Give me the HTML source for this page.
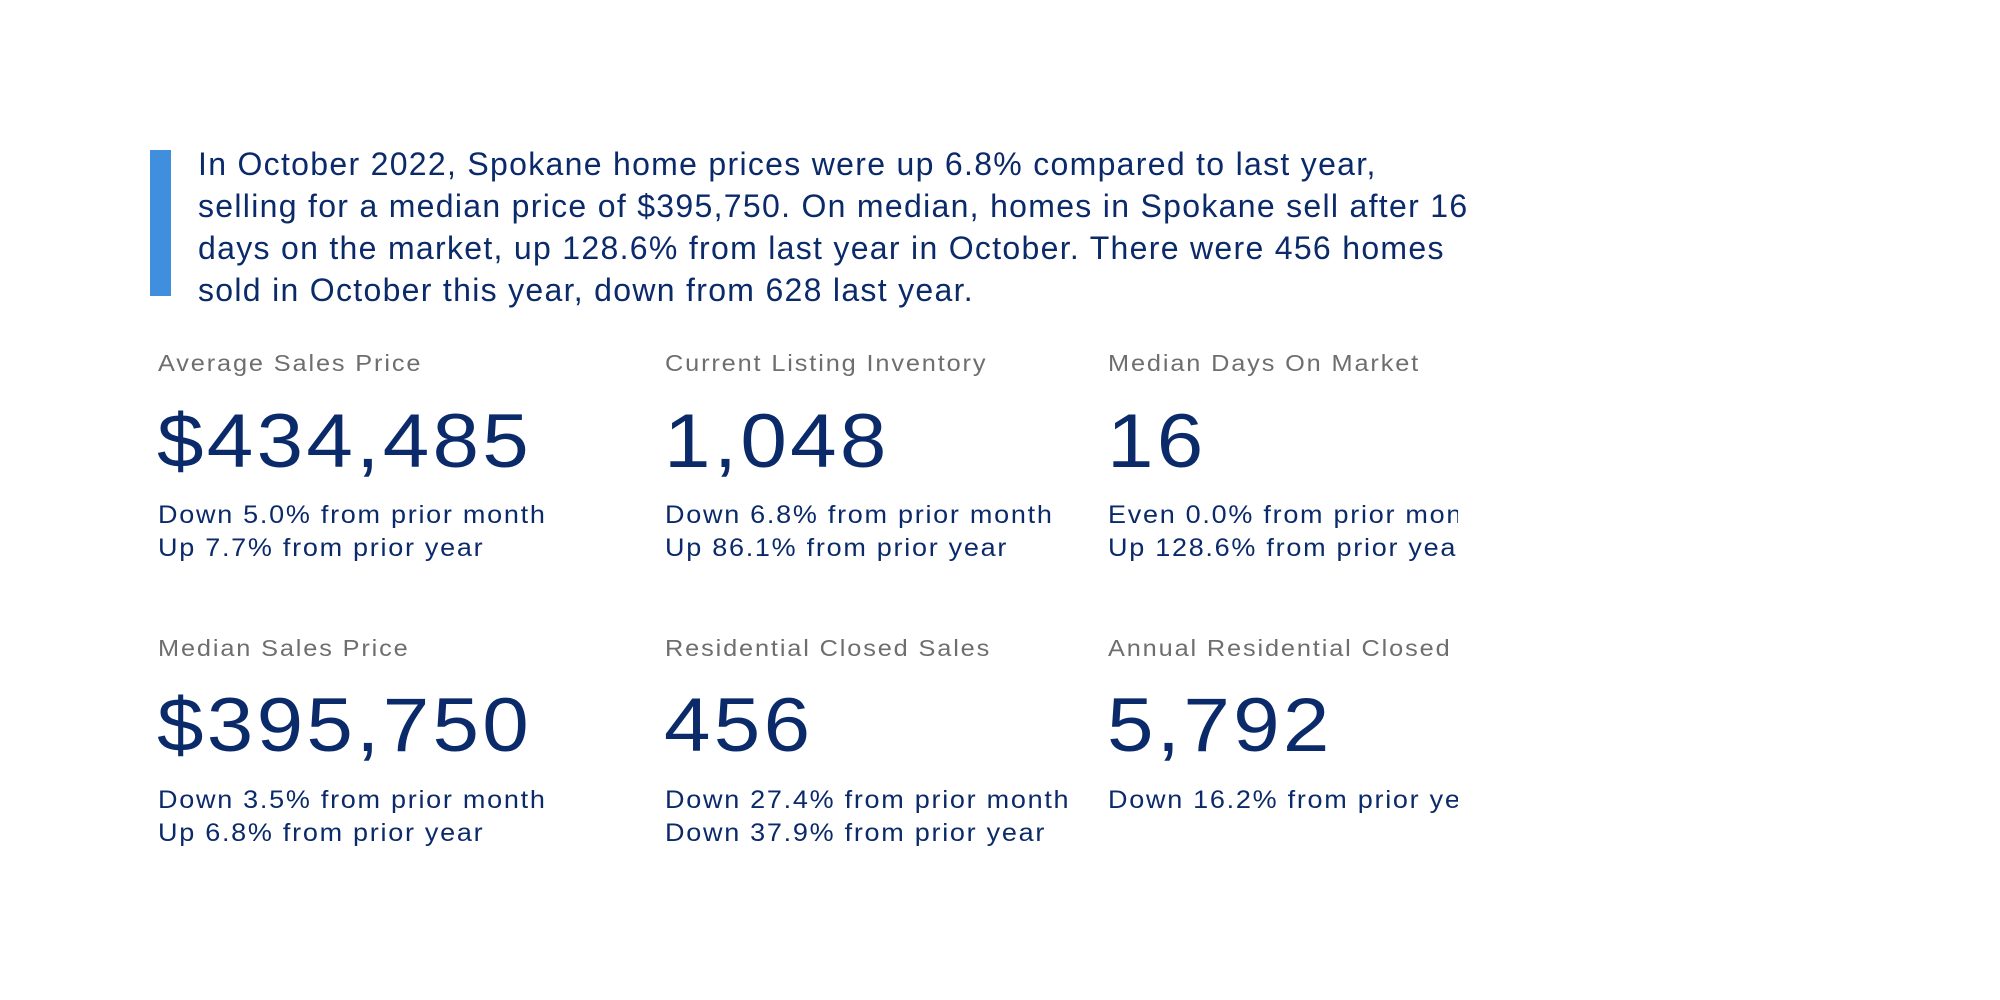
<!DOCTYPE html>
<html><head><meta charset="utf-8"><style>
html,body{margin:0;padding:0;background:#fff;}
body{width:2000px;height:1000px;position:relative;overflow:hidden;font-family:"Liberation Sans",Arial,sans-serif;}
.bar{position:absolute;left:150px;top:150px;width:21px;height:146px;background:#3f8fde;}
.para{position:absolute;left:198px;top:143px;width:1600px;font-size:32px;line-height:42px;color:#0b2a6a;letter-spacing:1.3px;white-space:nowrap;}
.col{position:absolute;overflow:hidden;white-space:nowrap;}
.col div{transform-origin:0 0;}
.lbl{position:absolute;left:0;font-size:23px;line-height:1;color:#6e6e6e;letter-spacing:1.7px;transform:scaleX(1.1);}
.big{position:absolute;left:-1px;font-size:76px;line-height:1;color:#0b2a6a;letter-spacing:3px;transform:scaleX(1.1);}
.sub{position:absolute;left:0;font-size:25px;line-height:1;color:#0b2a6a;letter-spacing:1.6px;transform:scaleX(1.08);}
</style></head><body>
<div class="bar"></div>
<div class="para">In October 2022, Spokane home prices were up 6.8% compared to last year,<br>selling for a median price of $395,750. On median, homes in Spokane sell after 16<br>days on the market, up 128.6% from last year in October. There were 456 homes<br>sold in October this year, down from 628 last year.</div>

<div class="col" style="left:158px;top:0;width:480px;height:1000px;">
<div class="lbl" style="top:352px">Average Sales Price</div>
<div class="big" style="top:404px">$434,485</div>
<div class="sub" style="top:503px">Down 5.0% from prior month</div>
<div class="sub" style="top:536px">Up 7.7% from prior year</div>
<div class="lbl" style="top:637px">Median Sales Price</div>
<div class="big" style="top:688px">$395,750</div>
<div class="sub" style="top:788px">Down 3.5% from prior month</div>
<div class="sub" style="top:821px">Up 6.8% from prior year</div>
</div>

<div class="col" style="left:665px;top:0;width:440px;height:1000px;">
<div class="lbl" style="top:352px">Current Listing Inventory</div>
<div class="big" style="top:404px">1,048</div>
<div class="sub" style="top:503px">Down 6.8% from prior month</div>
<div class="sub" style="top:536px">Up 86.1% from prior year</div>
<div class="lbl" style="top:637px">Residential Closed Sales</div>
<div class="big" style="top:688px">456</div>
<div class="sub" style="top:788px">Down 27.4% from prior month</div>
<div class="sub" style="top:821px">Down 37.9% from prior year</div>
</div>

<div class="col" style="left:1108px;top:0;width:350px;height:1000px;">
<div class="lbl" style="top:352px">Median Days On Market</div>
<div class="big" style="top:404px">16</div>
<div class="sub" style="top:503px">Even 0.0% from prior month</div>
<div class="sub" style="top:536px">Up 128.6% from prior year</div>
<div class="lbl" style="top:637px">Annual Residential Closed Sales</div>
<div class="big" style="top:688px">5,792</div>
<div class="sub" style="top:788px">Down 16.2% from prior year</div>
</div>
</body></html>
